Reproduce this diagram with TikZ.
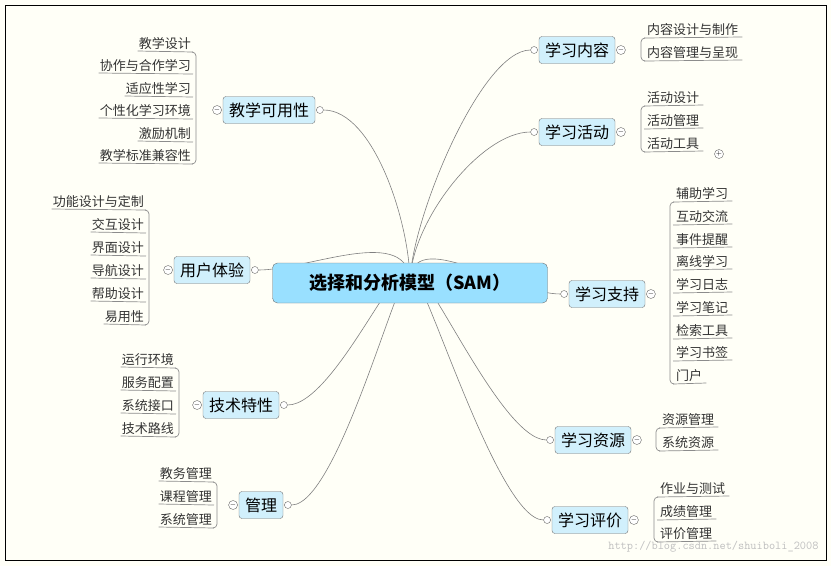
\documentclass[tikz,border=0pt]{standalone}
\usepackage{fontspec}
\setmainfont{Noto Sans CJK SC}
\usetikzlibrary{positioning}
\begin{document}
\begin{tikzpicture}[x=1pt,y=-1pt,
  branch/.style={draw=black!55,fill=cyan!18,rounded corners=3pt,minimum height=27pt,inner xsep=6pt,font=\fontsize{16}{16}\selectfont},
  leaf/.style={inner sep=1pt,font=\fontsize{13}{13}\selectfont,text=black!80},
  uline/.style={draw=black!45,line width=0.7pt},
  conn/.style={draw=black!50,line width=0.6pt},
  knob/.style={circle,draw=black!60,fill=white,inner sep=0pt,minimum size=7pt},
  mknob/.style={circle,draw=black!60,fill=white,inner sep=0pt,minimum size=9pt,font=\fontsize{7}{7}\selectfont}]
\fill[white!97!yellow] (0,0) rectangle (831,566);
\useasboundingbox (0,0) rectangle (831,566);
\draw[black,line width=0.8pt] (5,5) rectangle (826,560);
\coordinate (hub) at (410,283);
\foreach \n/\x/\y/\t/\s in {b1/269/110/教学可用性/1, b2/212/270/用户体验/1, b3/241/405/技术特性/1, b4/261/505/管理/1,
  b5/577/50/学习内容/-1, b6/577/132/学习活动/-1, b7/607/294/学习支持/-1, b8/593/440/学习资源/-1, b9/590/520/学习评价/-1}{
  \node[branch] (\n) at (\x,\y) {\t};
  \ifnum\s=1
    \node[knob,right=1pt of \n.east] (\n k) {};
    \node[mknob,left=1pt of \n.west] (\n m) {$-$};
    \draw[conn] (\n k.east) .. controls +(50,0) and +(0,-60) .. (hub);
  \else
    \node[knob,left=1pt of \n.west] (\n k) {};
    \node[mknob,right=1pt of \n.east] (\n m) {$-$};
    \draw[conn] (\n k.west) .. controls +(-50,0) and +(0,-60) .. (hub);
  \fi
}
\node[draw=black!55,fill=blue!30!cyan!40,rounded corners=5pt,minimum width=275pt,minimum height=40pt,font=\fontsize{18}{18}\selectfont\bfseries] (c) at (410,283) {选择和分析模型（SAM）};
\newcommand\leftgroup[3]{%
  \foreach \yy/\tt [count=\i] in {#3}{
    \node[leaf,anchor=south east] (#2l\i) at (#1-4,\yy-1) {\tt};
    \draw[uline] (#2l\i.south west) -- (#1-3,\yy);
  }}
\newcommand\rightgroup[3]{%
  \foreach \yy/\tt [count=\i] in {#3}{
    \node[leaf,anchor=south west] (#2l\i) at (#1+5,\yy-1) {\tt};
    \draw[uline] (#1+3,\yy) -- ([xshift=3pt]#2l\i.south east);
  }}
\leftgroup{196}{g1}{52/教学设计,74/协作与合作学习,97/适应性学习,119/个性化学习环境,142/激励机制,164/教学标准兼容性}
\draw[uline,rounded corners=4pt] (192,52) -- (196,52) -- (196,164) -- (192,164);
\leftgroup{149}{g2}{210/功能设计与定制,233/交互设计,256/界面设计,279/导航设计,302/帮助设计,325/易用性}
\draw[uline,rounded corners=4pt] (145,210) -- (149,210) -- (149,325) -- (145,325);
\leftgroup{179}{g3}{368/运行环境,391/服务配置,414/系统接口,437/技术路线}
\draw[uline,rounded corners=4pt] (175,368) -- (179,368) -- (179,437) -- (175,437);
\leftgroup{217}{g4}{482/教务管理,505/课程管理,528/系统管理}
\draw[uline,rounded corners=4pt] (213,482) -- (217,482) -- (217,528) -- (213,528);
\rightgroup{641}{g5}{38/内容设计与制作,61/内容管理与呈现}
\draw[uline,rounded corners=4pt] (645,38) -- (641,38) -- (641,61) -- (645,61);
\rightgroup{641}{g6}{106/活动设计,129/活动管理,152/活动工具}
\draw[uline,rounded corners=4pt] (645,106) -- (641,106) -- (641,152) -- (645,152);
\node[mknob] (plus) at (719,154) {$+$};
\rightgroup{670}{g7}{202/辅助学习,225/互动交流,248/事件提醒,270/离线学习,293/学习日志,316/学习笔记,339/检索工具,361/学习书签,384/门户}
\draw[uline,rounded corners=4pt] (674,202) -- (670,202) -- (670,384) -- (674,384);
\rightgroup{656}{g8}{428/资源管理,451/系统资源}
\draw[uline,rounded corners=4pt] (660,428) -- (656,428) -- (656,451) -- (660,451);
\rightgroup{654}{g9}{497/作业与测试,520/成绩管理,542/评价管理}
\draw[uline,rounded corners=4pt] (658,497) -- (654,497) -- (654,542) -- (658,542);
\node[text=black!25,font=\fontsize{12}{12}\ttfamily,anchor=east] (wm) at (822,547) {http://blog.csdn.net/shuiboli\_2008};
\end{tikzpicture}
\end{document}
